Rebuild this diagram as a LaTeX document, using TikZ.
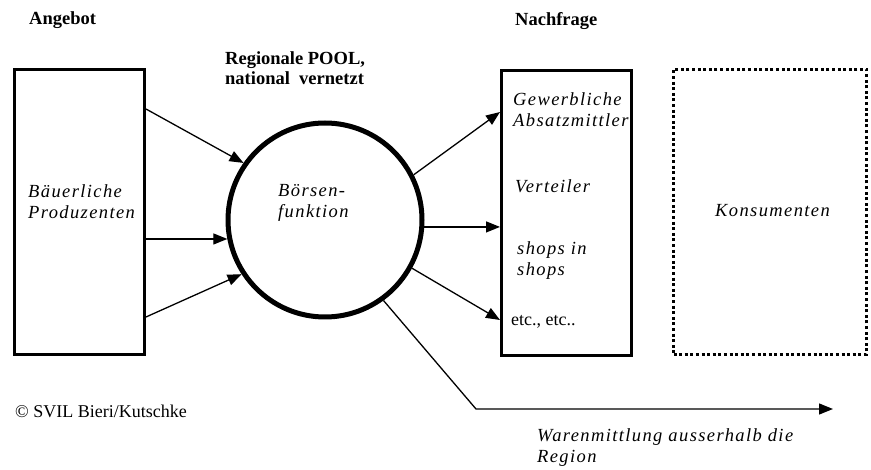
\documentclass[tikz,border=0pt]{standalone}
\usepackage{fontspec}
\setmainfont{Liberation Serif}
\newfontfamily\spit[LetterSpace=7.5]{Liberation Serif}
\usetikzlibrary{arrows.meta}
\begin{document}
\begin{tikzpicture}[x=1pt,y=-1pt,
  lbl/.style={inner sep=0pt, anchor=base west, align=left, font=\fontsize{18.5}{21.5}\selectfont\spit\itshape},
  hdr/.style={inner sep=0pt, anchor=base west, align=left, font=\fontsize{18.5}{20}\selectfont\bfseries},
  plain/.style={inner sep=0pt, anchor=base west, font=\fontsize{18}{21}\selectfont},
  box/.style={draw, line width=3pt, minimum width=130pt, minimum height=285pt, inner sep=0pt},
  dotbox/.style={draw, line width=3pt, dash pattern=on 3pt off 2.6pt, minimum width=193pt, minimum height=285pt, inner sep=0pt},
  arr/.style={line width=1.3pt, -{Triangle[length=14pt,width=11pt]}},
]
\useasboundingbox (0,0) rectangle (871,470);
\fill[white] (0,0) rectangle (871,470);

\node[box] (leftbox) at (79.5,212) {};
\node[box] (midbox) at (566.5,213) {};
\node[dotbox] (konsbox) at (770,212) {};
\node[circle, draw, line width=5pt, minimum size=194pt, inner sep=0pt] (circ) at (325,220) {};

\node[hdr] (angebot) at (29,25) {Angebot};
\node[hdr] (nachfrage) at (515,26) {Nachfrage};
\node[hdr] (pool) at (225,85) {Regionale POOL,\\national\ \ vernetzt};

\node[lbl] (prod) at (28,219) {Bäuerliche\\Produzenten};
\node[lbl] (boerse) at (278,218) {Börsen-\\funktion};
\node[lbl] (gew) at (513,127) {Gewerbliche\\Absatzmittler};
\node[lbl] (vert) at (515,193) {Verteiler};
\node[lbl] (shops) at (517,276) {shops in\\shops};
\node[plain] (etc) at (511,326) {etc., etc..};
\node[lbl] (kons) at (715,217) {Konsumenten};
\node[plain] (copy) at (15,418) {© SVIL Bieri/Kutschke};
\node[lbl] (waren) at (537,463) {Warenmittlung ausserhalb die\\Region};

\draw[arr] (leftbox.east |- 0,109) -- (circ.145);
\draw[arr] (circ.191 -| leftbox.east) -- (circ.191);
\draw[arr] (leftbox.east |- 0,317) -- (circ.213);

\draw[arr] (circ.27) -- (midbox.west |- 0,112);
\draw[arr] (circ.356) -- (circ.356 -| midbox.west);
\draw[arr] (circ.331) -- (midbox.west |- 0,320);

\coordinate (bend) at (476,409);
\coordinate (outend) at (833,409);
\draw[arr] (circ.306) -- (bend) -- (outend);
\end{tikzpicture}
\end{document}
